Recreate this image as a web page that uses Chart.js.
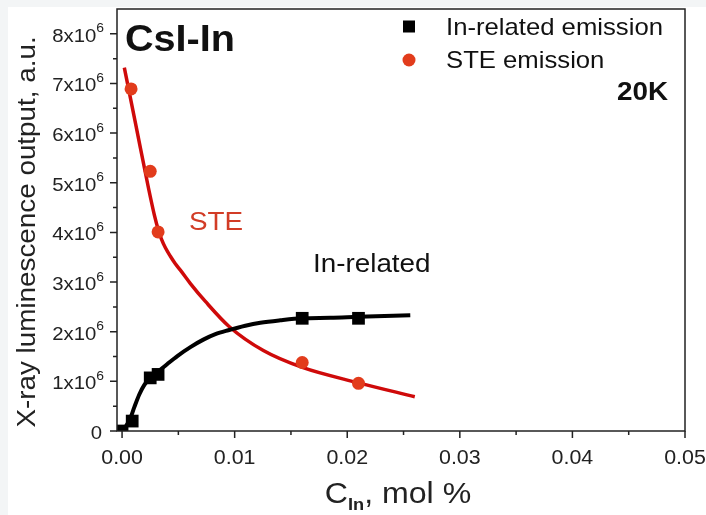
<!DOCTYPE html>
<html>
<head>
<meta charset="utf-8">
<script src="https://cdn.jsdelivr.net/npm/chart.js@4.4.1/dist/chart.umd.min.js"></script>
<style>
    html, body { margin: 0; padding: 0; background: #f3f5f6; }
    #wrap { width: 706px; height: 515px; position: relative; }
</style>
</head>
<body>
<div id="wrap"><canvas id="chart"></canvas></div>
<script>
// measured points (C_In in mol %, output in a.u.)
const inConc = [0, 0.0009, 0.0025, 0.0032, 0.016, 0.021]
const inYield = [0, 0.2e6, 1.07e6, 1.14e6, 2.27e6, 2.27e6]
const steConc = [0.0008, 0.0025, 0.0032, 0.016, 0.021]
const steYield = [6.89e6, 5.23e6, 4.01e6, 1.38e6, 0.96e6]

// fitted curves
const inFitConc = [0, 0.00038, 0.00074, 0.00109, 0.00154, 0.00198, 0.00251, 0.00322, 0.00402, 0.00491,
    0.00607, 0.00722, 0.00829, 0.00944, 0.01095, 0.01228, 0.01406, 0.01601, 0.0185, 0.021, 0.0256]
const inFitYield = [0, 0.11e6, 0.26e6, 0.48e6, 0.74e6, 0.93e6, 1.07e6, 1.2e6, 1.35e6, 1.51e6,
    1.69e6, 1.84e6, 1.95e6, 2.03e6, 2.12e6, 2.18e6, 2.23e6, 2.27e6, 2.28e6, 2.3e6, 2.33e6]
const steFitConc = [0.0002, 0.00127, 0.00234, 0.00287, 0.00322, 0.00349, 0.00385, 0.00429, 0.00473,
    0.00518, 0.00607, 0.0074, 0.00953, 0.01255, 0.01601, 0.021, 0.026]
const steFitYield = [7.32e6, 6.11e6, 4.9e6, 4.35e6, 4.05e6, 3.87e6, 3.69e6, 3.52e6, 3.37e6,
    3.24e6, 2.97e6, 2.61e6, 2.1e6, 1.62e6, 1.28e6, 0.97e6, 0.69e6]

// axis ticks
const xTicks = [0, 0.01, 0.02, 0.03, 0.04, 0.05]
const xTickLabels = ['0.00', '0.01', '0.02', '0.03', '0.04', '0.05']
const xMinorTicks = [0.005, 0.015, 0.025, 0.035, 0.045]
const yTicks = [0, 1e6, 2e6, 3e6, 4e6, 5e6, 6e6, 7e6, 8e6]
const yTickLabels = ['0', '1x10', '2x10', '3x10', '4x10', '5x10', '6x10', '7x10', '8x10']
const yMinorTicks = [0.5e6, 1.5e6, 2.5e6, 3.5e6, 4.5e6, 5.5e6, 6.5e6, 7.5e6]

const RED_LINE = '#cf0a0a'
const RED_DOT = '#e23c1c'
const FONT = '"Liberation Sans", Arial, sans-serif'
const STRETCH = 1.07

function toPoints(xs, ys) {
    var out = []
    for (let i = 0; i < xs.length; i++) {
        out.push({ x: xs[i], y: ys[i] })
    }
    return out
}

// text helper, slightly wide lettering like the Origin export
function drawText(ctx, str, x, y, font, color, align) {
    ctx.save()
    ctx.font = font
    ctx.fillStyle = color
    ctx.textBaseline = 'alphabetic'
    ctx.textAlign = 'left'
    var w = ctx.measureText(str).width * STRETCH
    var left = x
    if (align === 'right') left = x - w
    if (align === 'center') left = x - w / 2
    ctx.translate(left, y)
    ctx.scale(STRETCH, 1)
    ctx.fillText(str, 0, 0)
    ctx.restore()
    return w
}

function measure(ctx, str, font) {
    ctx.save()
    ctx.font = font
    var w = ctx.measureText(str).width * STRETCH
    ctx.restore()
    return w
}

const backdrop = {
    id: 'backdrop',
    beforeDraw(chart) {
        const ctx = chart.ctx
        ctx.save()
        ctx.fillStyle = '#f3f5f6'
        ctx.fillRect(0, 0, chart.width, chart.height)
        ctx.fillStyle = '#ffffff'
        ctx.fillRect(8, 7, chart.width - 8, chart.height - 7)
        ctx.restore()
    }
}

const frame = {
    id: 'frame',
    afterDraw(chart) {
        const ctx = chart.ctx
        const area = chart.chartArea
        const xs = chart.scales.x
        const ys = chart.scales.y
        ctx.save()
        ctx.strokeStyle = '#222'
        ctx.lineWidth = 1.5
        ctx.strokeRect(area.left, area.top, area.right - area.left, area.bottom - area.top)

        // tick marks, pointing outwards
        ctx.beginPath()
        yTicks.forEach(function (v) {
            var py = ys.getPixelForValue(v)
            ctx.moveTo(area.left, py)
            ctx.lineTo(area.left - 7, py)
        })
        yMinorTicks.forEach(function (v) {
            var py = ys.getPixelForValue(v)
            ctx.moveTo(area.left, py)
            ctx.lineTo(area.left - 4, py)
        })
        xTicks.forEach(function (v) {
            var px = xs.getPixelForValue(v)
            ctx.moveTo(px, area.bottom)
            ctx.lineTo(px, area.bottom + 7)
        })
        xMinorTicks.forEach(function (v) {
            var px = xs.getPixelForValue(v)
            ctx.moveTo(px, area.bottom)
            ctx.lineTo(px, area.bottom + 4)
        })
        ctx.stroke()
        ctx.restore()

        // tick labels
        var tickFont = '19px ' + FONT
        var supFont = '13px ' + FONT
        yTicks.forEach(function (v, i) {
            var py = ys.getPixelForValue(v)
            var right = area.left - 13
            if (i === 0) {
                drawText(ctx, yTickLabels[i], right - 2, py + 8, tickFont, '#222', 'right')
                return
            }
            var ws = measure(ctx, '6', supFont)
            drawText(ctx, yTickLabels[i], right - ws, py + 8, tickFont, '#222', 'right')
            drawText(ctx, '6', right - ws, py - 1.5, supFont, '#222', 'left')
        })
        xTicks.forEach(function (v, i) {
            var px = xs.getPixelForValue(v)
            drawText(ctx, xTickLabels[i], px, area.bottom + 33, '20px ' + FONT, '#222', 'center')
        })

        // axis titles
        ctx.save()
        ctx.translate(26, 232)
        ctx.rotate(-Math.PI / 2)
        drawText(ctx, 'X-ray luminescence output, a.u.', 0, 9, '26px ' + FONT, '#222', 'center')
        ctx.restore()

        var bigFont = '30px ' + FONT
        var subFont = 'bold 17px ' + FONT
        var wC = measure(ctx, 'C', bigFont)
        var wSub = measure(ctx, 'In', subFont)
        var wRest = measure(ctx, ', mol %', bigFont)
        var x0 = 398 - (wC + wSub + wRest) / 2
        drawText(ctx, 'C', x0, 503, bigFont, '#222', 'left')
        drawText(ctx, 'In', x0 + wC, 510, subFont, '#222', 'left')
        drawText(ctx, ', mol %', x0 + wC + wSub, 503, bigFont, '#222', 'left')

        // annotations
        drawText(ctx, 'CsI-In', 125, 51, 'bold 37px ' + FONT, '#111', 'left')
        drawText(ctx, '20K', 668, 100, 'bold 26px ' + FONT, '#111', 'right')
        drawText(ctx, 'STE', 189, 230, '26px ' + FONT, '#d23c26', 'left')
        drawText(ctx, 'In-related', 313, 272, '26px ' + FONT, '#111', 'left')

        // legend
        ctx.save()
        ctx.fillStyle = '#000'
        ctx.fillRect(403, 20.5, 12, 12)
        ctx.fillStyle = RED_DOT
        ctx.beginPath()
        ctx.arc(409, 60, 6.5, 0, Math.PI * 2)
        ctx.fill()
        ctx.restore()
        drawText(ctx, 'In-related emission', 446, 35, '24px ' + FONT, '#111', 'left')
        drawText(ctx, 'STE emission', 446, 68, '24px ' + FONT, '#111', 'left')
    }
}

new Chart(document.getElementById('chart'), {
    type: 'scatter',
    data: {
        datasets: [
            {
                label: 'In-related emission',
                data: toPoints(inConc, inYield),
                pointStyle: 'rect',
                pointRadius: 9,
                backgroundColor: '#000',
                borderWidth: 0,
                order: 1
            },
            {
                label: 'STE emission',
                data: toPoints(steConc, steYield),
                pointStyle: 'circle',
                pointRadius: 6.5,
                backgroundColor: RED_DOT,
                borderWidth: 0,
                order: 2
            },
            {
                label: 'In fit',
                data: toPoints(inFitConc, inFitYield),
                showLine: true,
                pointRadius: 0,
                borderColor: '#000',
                borderWidth: 4,
                cubicInterpolationMode: 'monotone',
                order: 3
            },
            {
                label: 'STE fit',
                data: toPoints(steFitConc, steFitYield),
                showLine: true,
                pointRadius: 0,
                borderColor: RED_LINE,
                borderWidth: 3.5,
                cubicInterpolationMode: 'monotone',
                order: 4
            }
        ]
    },
    options: {
        responsive: true,
        maintainAspectRatio: false,
        animation: false,
        layout: { padding: { left: 117, top: 8, right: 21, bottom: 84 } },
        plugins: {
            legend: { display: false },
            tooltip: { enabled: false }
        },
        scales: {
            x: {
                type: 'linear',
                min: -0.00045,
                max: 0.05,
                grid: { display: false, drawTicks: false },
                border: { display: false },
                ticks: { display: false }
            },
            y: {
                type: 'linear',
                min: 0,
                max: 8.5e6,
                grid: { display: false, drawTicks: false },
                border: { display: false },
                ticks: { display: false }
            }
        }
    },
    plugins: [backdrop, frame]
});
</script>
</body>
</html>
